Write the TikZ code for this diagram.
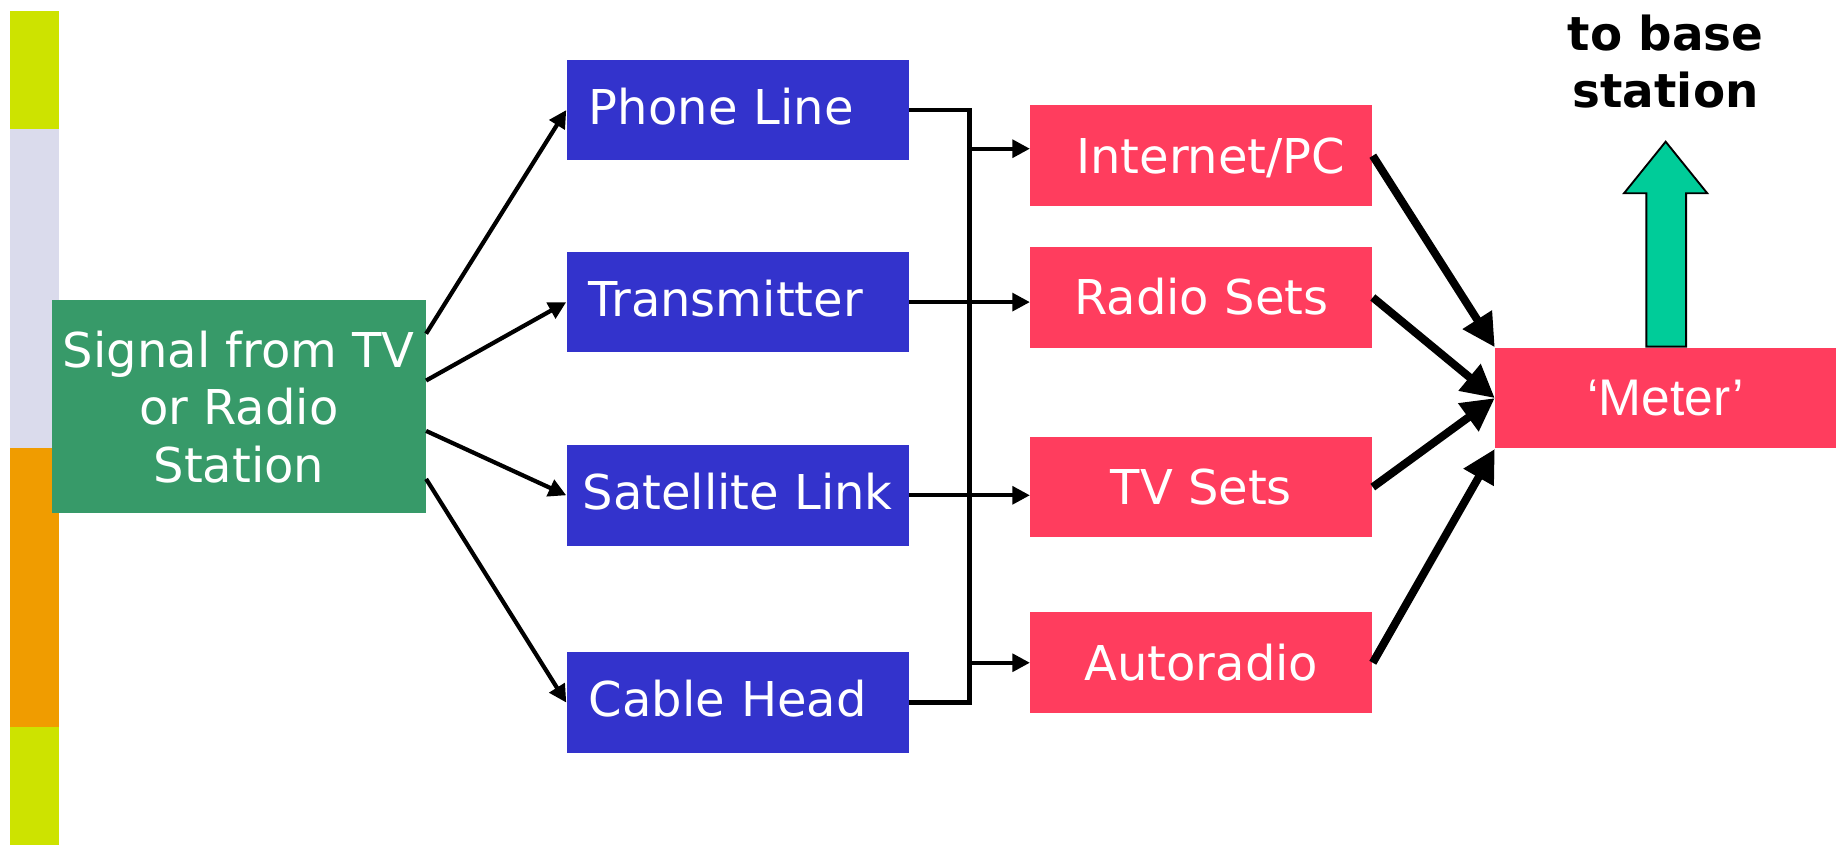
\documentclass[tikz,border=0pt]{standalone}
\usepackage{fontspec}
\setmainfont{DejaVu Sans}
\newfontfamily\meterfont{Liberation Sans}
\usetikzlibrary{arrows.meta,calc}
\definecolor{barlime}{HTML}{CDE300}
\definecolor{barlav}{HTML}{DADBEC}
\definecolor{barorange}{HTML}{F09C00}
\definecolor{srcgreen}{HTML}{379A69}
\definecolor{boxblue}{HTML}{3333CC}
\definecolor{boxred}{HTML}{FF3D5E}
\definecolor{upgreen}{HTML}{00CC99}
\begin{document}
\begin{tikzpicture}[x=0.5pt,y=-0.5pt,
  box/.style={minimum width=146pt,minimum height=43pt,inner sep=0pt,
    text=white,text height=15pt,text depth=0pt,
    font=\fontsize{20.5}{24.5}\selectfont},
  bluebox/.style={box,fill=boxblue,text height=12pt},
  leftpad/.style={inner xsep=9.5pt,text width=127pt,align=left},
  redbox/.style={box,fill=boxred},
  feed/.style={-{Triangle[length=7.5pt,width=7.5pt]},line width=1.8pt},
  busline/.style={line width=1.8pt},
  heavy/.style={-{Triangle[length=14pt,width=14pt]},line width=3.4pt}]
\useasboundingbox (0,0) rectangle (1568,722);

% coloured side bar
\fill[barlime]   (8.4,9)   rectangle (50,110);
\fill[barlav]    (8.4,110) rectangle (50,383);
\fill[barorange] (8.4,383) rectangle (50,621);
\fill[barlime]   (8.4,621) rectangle (50,722);

% source
\node[fill=srcgreen,text=white,minimum width=159.5pt,minimum height=91pt,
  inner sep=0pt,align=center,font=\fontsize{20.5}{24.5}\selectfont]
  (sig) at (204,347.5) {Signal from TV\\or Radio\\Station};

% distribution paths
\node[bluebox,leftpad] (phone) at (630,94)  {Phone Line};
\node[bluebox,leftpad] (trans) at (630,258) {Transmitter};
\node[bluebox]         (sat)   at (630,423) {Satellite Link};
\node[bluebox,leftpad] (cable) at (630,600) {Cable Head};

% receivers
\node[redbox] (inet)  at (1026,133) {\hspace*{8pt}Internet/PC};
\node[redbox] (radio) at (1026,254) {Radio Sets};
\node[redbox] (tv)    at (1026,416) {TV Sets};
\node[redbox] (auto)  at (1026,566) {Autoradio};

% meter
\node[fill=boxred,text=white,minimum width=145.5pt,minimum height=43pt,
  inner sep=0pt,font=\meterfont\fontsize{22}{26}\selectfont]
  (meter) at (1422.5,340) {‘Meter’};

% source to paths
\draw[feed] ($(sig.east)+(0,-62.5)$) -- (phone.west);
\draw[feed] ($(sig.east)+(0,-22.5)$) -- (trans.west);
\draw[feed] ($(sig.east)+(0,20.5)$)  -- (sat.west);
\draw[feed] ($(sig.east)+(0,61.5)$)  -- (cable.west);

% shared bus between phone line and cable head
\coordinate (btop) at (828,94);
\coordinate (bbot) at (828,600);
\coordinate (tapinet) at (828,127);
\coordinate (tapauto) at (828,566);
\draw[busline] (phone.east) -- (btop) -- (bbot) -- (cable.east);
\draw[feed] (tapinet) -- (tapinet -| inet.west);
\draw[feed] (tapauto) -- (tapauto -| auto.west);
\draw[feed] (trans.east) -- (trans.east -| radio.west);
\draw[feed] (sat.east) -- (sat.east -| tv.west);

% receivers to meter
\draw[heavy] (inet.east)  -- (meter.north west);
\draw[heavy] (radio.east) -- (meter.west);
\draw[heavy] (tv.east)    -- (meter.west);
\draw[heavy] (auto.east)  -- (meter.south west);

% uplink arrow
\draw[line width=0.8pt,fill=upgreen]
  (1406,296) -- (1406,165) -- (1387,165) -- (1422.5,121) -- (1458,165)
  -- (1440,165) -- (1440,296) -- cycle;
\node[anchor=base,align=center,font=\bfseries\fontsize{20}{24.2}\selectfont]
  (uplabel) at (1422.5,91.7) {to base\\station};
\end{tikzpicture}
\end{document}
